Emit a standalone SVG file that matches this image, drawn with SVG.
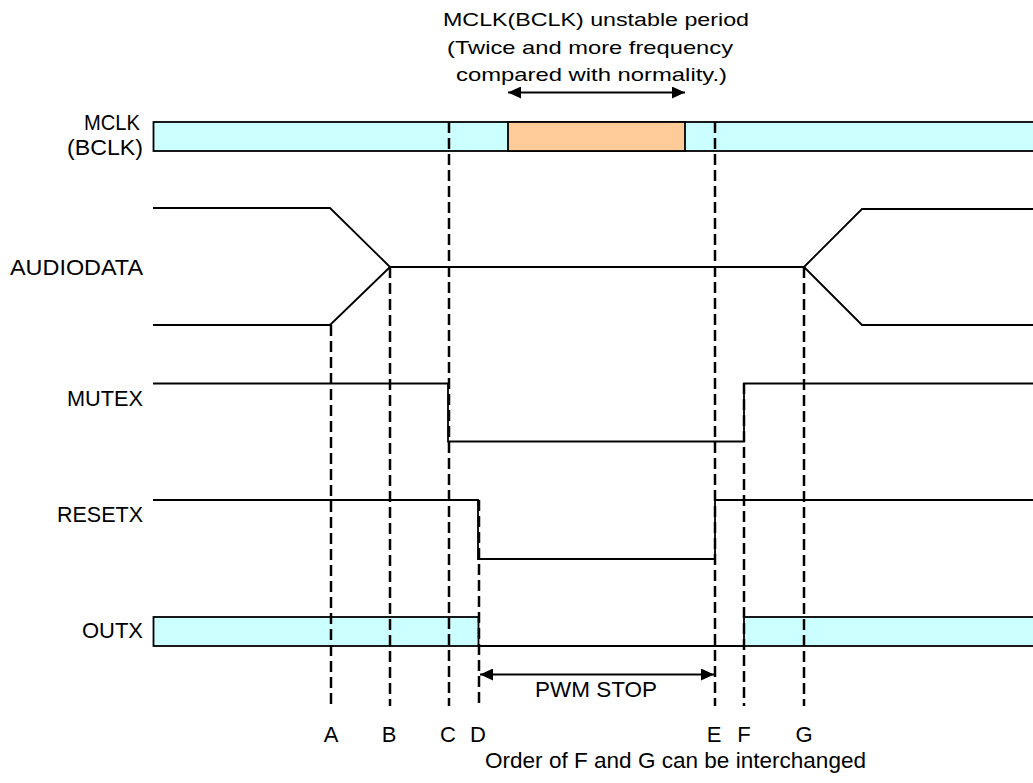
<svg xmlns="http://www.w3.org/2000/svg" width="1033" height="783" viewBox="0 0 1033 783">
<defs>
<style>
text{font-family:"Liberation Sans",Arial,sans-serif;fill:#000}
.lbl{font-size:22px;text-anchor:end}
.t{font-size:22px}
.ttl{font-size:18.5px}
.mk{font-size:22px;text-anchor:middle}
.sig{fill:none;stroke:#000;stroke-width:1.8}
.bar{fill:#CCFFFF;stroke:#000;stroke-width:1.8}
.unst{fill:#FFCC99;stroke:#000;stroke-width:1.8}
.dash{stroke:#000;stroke-width:2.5;stroke-dasharray:11 5;fill:none}
.arr{stroke:#000;stroke-width:1.8;fill:none}
</style>
<marker id="ah" viewBox="0 0 13 12" refX="13" refY="6" markerWidth="13" markerHeight="12" markerUnits="userSpaceOnUse" orient="auto-start-reverse">
<path d="M0,0 L13,6 L0,12 Z" fill="#000"/>
</marker>
</defs>
<rect width="1033" height="783" fill="#fff"/>

<g id="title">
<text class="ttl" x="443" y="26" textLength="306" lengthAdjust="spacingAndGlyphs">MCLK(BCLK) unstable period</text>
<text class="ttl" x="447" y="54" textLength="286" lengthAdjust="spacingAndGlyphs">(Twice and more frequency</text>
<text class="ttl" x="456" y="81" textLength="271" lengthAdjust="spacingAndGlyphs">compared with normality.)</text>
</g>

<g id="mclk">
<text class="lbl" x="140" y="130" textLength="56" lengthAdjust="spacingAndGlyphs">MCLK</text>
<text class="lbl" x="143" y="155" textLength="76" lengthAdjust="spacingAndGlyphs">(BCLK)</text>
<rect class="bar" x="153.5" y="122" width="890" height="29"/>
<rect class="unst" x="508" y="122" width="177" height="29"/>
</g>

<g id="audiodata">
<text class="lbl" x="143" y="275" textLength="133" lengthAdjust="spacingAndGlyphs">AUDIODATA</text>
<polyline class="sig" points="153,208 330,208 390,267"/>
<polyline class="sig" points="153,325 330,325 390,267"/>
<line class="sig" x1="390" y1="267" x2="804" y2="267"/>
<polyline class="sig" points="804,267 862,209 1040,209"/>
<polyline class="sig" points="804,267 862,325 1040,325"/>
</g>

<g id="mutex">
<text class="lbl" x="143" y="406" textLength="76" lengthAdjust="spacingAndGlyphs">MUTEX</text>
<polyline class="sig" points="153,383.5 448,383.5 448,441.5 744,441.5 744,383.5 1040,383.5"/>
</g>

<g id="resetx">
<text class="lbl" x="143" y="522" textLength="86" lengthAdjust="spacingAndGlyphs">RESETX</text>
<polyline class="sig" points="153,500 478,500 478,559 715,559 715,500 1040,500"/>
</g>

<g id="outx">
<text class="lbl" x="143" y="638" textLength="61" lengthAdjust="spacingAndGlyphs">OUTX</text>
<rect class="bar" x="153.5" y="617" width="325" height="29"/>
<rect class="bar" x="744" y="617" width="300" height="29"/>
<line class="sig" x1="478" y1="646" x2="744" y2="646"/>
</g>

<g id="connectors">
<line class="dash" x1="331" y1="325" x2="331" y2="706"/>
<line class="dash" x1="390" y1="267" x2="390" y2="706"/>
<line class="dash" x1="449" y1="122" x2="449" y2="706"/>
<line class="dash" x1="479" y1="500" x2="479" y2="706"/>
<line class="dash" x1="715" y1="122" x2="715" y2="706"/>
<line class="dash" x1="744" y1="383" x2="744" y2="706"/>
<line class="dash" x1="804" y1="267" x2="804" y2="706"/>
<line class="arr" x1="508" y1="92.5" x2="685" y2="92.5" marker-start="url(#ah)" marker-end="url(#ah)"/>
<line class="arr" x1="480" y1="674.5" x2="714" y2="674.5" marker-start="url(#ah)" marker-end="url(#ah)"/>
</g>

<g id="markers">
<text class="mk" x="331" y="742">A</text>
<text class="mk" x="389" y="742">B</text>
<text class="mk" x="448" y="742">C</text>
<text class="mk" x="478" y="742">D</text>
<text class="mk" x="714" y="742">E</text>
<text class="mk" x="744" y="742">F</text>
<text class="mk" x="804" y="742">G</text>
<text class="t" x="535" y="697" textLength="122" lengthAdjust="spacingAndGlyphs">PWM STOP</text>
<text class="t" x="485" y="768" textLength="381" lengthAdjust="spacingAndGlyphs">Order of F and G can be interchanged</text>
</g>
</svg>
